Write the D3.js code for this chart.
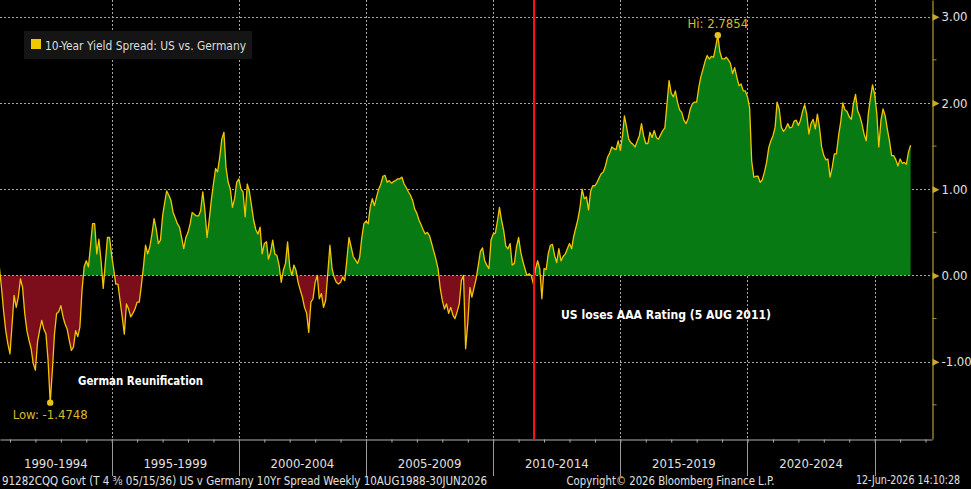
<!DOCTYPE html>
<html><head><meta charset="utf-8">
<script src="https://cdn.jsdelivr.net/npm/d3@7"></script>
<style>html,body{margin:0;padding:0;background:#000;overflow:hidden}svg{display:block}</style>
</head><body><svg id="c" width="971" height="489"></svg>
<script>
// ---------------- data ----------------
const seriesName = "10-Year Yield Spread: US vs. Germany";
const firstMonth = "1990-08-01"; // monthly observations start here
const spread1990s = [
  0.10,-0.14,-0.41,-0.64,-0.79,
  -0.91,-0.56,-0.23,-0.37,-0.25,-0.04,-0.14,-0.44,-0.64,-0.75,-0.85,-1.02,
  -1.10,-0.77,-0.64,-0.52,-0.62,-0.68,-0.98,-1.4748,-1.10,-0.68,-0.44,-0.42,
  -0.35,-0.48,-0.56,-0.62,-0.75,-0.87,-0.83,-0.64,-0.71,-0.60,-0.17,0.10,
  0.17,0.10,0.33,0.60,0.60,0.25,0.42,0.17,-0.15,0.14,0.44,0.44,
  0.23,0.06,-0.10,-0.10,-0.29,-0.48,-0.68,-0.33,-0.39,-0.48,-0.44,-0.39,
  -0.31,-0.31,-0.12,0.10,0.35,0.25,0.33,0.48,0.66,0.54,0.37,0.41,
  0.69,0.85,0.98,0.93,0.87,0.73,0.67,0.60,0.56,0.44,0.31,0.44,
  0.50,0.60,0.73,0.71,0.69,0.69,0.75,0.97,0.75,0.44,0.64,0.87,
  1.06,1.24,1.20,1.37,1.58,1.66,1.25,1.08,1.00,0.79,0.89,1.08
];
const spread2000s = [
  1.12,1.00,0.97,0.68,1.06,0.97,0.81,0.64,0.53,0.48,0.56,0.25,
  0.37,0.39,0.19,0.27,0.41,0.25,0.23,0.12,-0.08,0.06,0.14,0.39,
  0.10,0.00,0.12,0.06,-0.08,-0.17,-0.25,-0.37,-0.44,-0.66,-0.31,-0.27,
  -0.08,0.00,-0.27,-0.21,-0.37,-0.29,0.02,0.35,0.08,-0.02,-0.08,-0.10,
  -0.08,-0.02,-0.06,0.19,0.44,0.33,0.22,0.18,0.14,0.21,0.44,0.60,
  0.63,0.60,0.79,0.89,0.81,0.91,1.00,1.06,1.15,1.16,1.08,1.10,
  1.07,1.09,1.10,1.12,1.12,1.14,1.06,1.02,0.97,0.93,0.87,0.77,
  0.72,0.64,0.59,0.53,0.48,0.50,0.46,0.37,0.28,0.19,0.08,-0.14,
  -0.29,-0.39,-0.33,-0.44,-0.37,-0.46,-0.50,-0.42,-0.33,-0.06,0.00,-0.85,
  -0.55,-0.14,-0.25,-0.14,-0.04,0.12,0.28,0.32,0.17,0.12,0.08,0.41
];
const spread2010s = [
  0.48,0.49,0.62,0.79,0.64,0.52,0.34,0.31,0.37,0.12,0.14,0.33,
  0.44,0.27,0.17,0.08,0.00,0.02,0.00,-0.10,0.08,0.17,0.08,-0.27,
  0.08,0.07,0.25,0.35,0.36,0.23,0.15,0.31,0.17,0.22,0.25,0.31,
  0.37,0.31,0.45,0.55,0.65,0.79,1.00,0.89,0.91,0.76,0.98,1.04,
  1.04,1.08,1.13,1.18,1.20,1.27,1.37,1.42,1.49,1.47,1.46,1.56,
  1.45,1.62,1.85,1.72,1.58,1.54,1.52,1.49,1.56,1.62,1.76,1.62,
  1.53,1.53,1.66,1.60,1.68,1.60,1.58,1.63,1.68,1.71,1.99,2.26,
  2.11,2.07,2.14,2.01,1.92,1.89,1.80,1.76,1.82,1.93,1.99,2.01,
  2.01,2.18,2.30,2.39,2.48,2.55,2.51,2.54,2.53,2.65,2.7854,2.59,
  2.51,2.51,2.53,2.50,2.46,2.34,2.41,2.30,2.20,2.22,2.14,2.14
];
const spread2020s = [
  2.07,1.94,1.33,1.14,1.15,1.15,1.08,1.11,1.20,1.31,1.48,1.56,
  1.62,1.72,2.01,1.93,1.72,1.67,1.70,1.76,1.71,1.72,1.79,1.80,
  1.74,1.80,1.90,1.98,1.87,1.64,1.76,1.81,1.70,1.87,1.71,1.49,
  1.39,1.34,1.35,1.14,1.25,1.41,1.41,1.62,1.78,2.00,1.92,1.90,
  1.84,1.81,1.99,2.10,1.91,1.85,1.76,1.64,1.56,1.87,2.06,2.21,
  2.10,1.87,1.49,1.80,1.93,1.85,1.70,1.56,1.39,1.39,1.34,1.27,
  1.35,1.30,1.31,1.29,1.43,1.51
];
const periodLabels = ["1990-1994","1995-1999","2000-2004","2005-2009","2010-2014","2015-2019","2020-2024"];
const periodBreaks = ["1995-01-01","2000-01-01","2005-01-01","2010-01-01","2015-01-01","2020-01-01","2025-01-01"];
const yTicks = [3, 2, 1, 0, -1];
const yMinorTicks = [2.5, 1.5, 0.5, -0.5, -1.5];
const eventDate = "2011-08-05";
const eventLabel = "US loses AAA Rating (5 AUG 2011)";
const reunificationLabel = "German Reunification";
const hiLabel = "Hi: 2.7854", loLabel = "Low: -1.4748";
const footerLeft = "91282CQQ Govt (T 4 \u215C 05/15/36) US v Germany 10Yr Spread Weekly 10AUG1988-30JUN2026";
const footerMid = "Copyright\u00A9 2026 Bloomberg Finance L.P.";
const footerRight = "12-Jun-2026 14:10:28";

// ---------------- build ----------------
const values = [].concat(spread1990s, spread2000s, spread2010s, spread2020s);
const start = new Date(firstMonth);
const data = values.map((v, i) => ({date: d3.utcMonth.offset(start, i), v}));

const FONT = '"Liberation Sans Narrow","Arial Narrow","DejaVu Sans Condensed",sans-serif';
const plotR = 932, plotB = 439;

const xa = d3.scaleUtc().domain([new Date("1995-01-01"), new Date("2025-01-01")]).range([111.7, 874.7]);
const x = d3.scaleUtc().domain([xa.invert(0), xa.invert(plotR)]).range([0, plotR]);
const y = d3.scaleLinear().domain([-1, 3]).range([361.7, 16.7]);
y.domain([y.invert(plotB), y.invert(0)]).range([plotB, 0]);

const svg = d3.select("#c");
svg.append("rect").attr("width", 971).attr("height", 489).attr("fill", "#000");
const defs = svg.append("defs");
defs.append("clipPath").attr("id", "plot").append("rect").attr("x", 0).attr("y", 0).attr("width", plotR).attr("height", plotB);
defs.append("clipPath").attr("id", "pos").append("rect").attr("x", 0).attr("y", 0).attr("width", plotR).attr("height", y(0));
defs.append("clipPath").attr("id", "neg").append("rect").attr("x", 0).attr("y", y(0)).attr("width", plotR).attr("height", plotB - y(0));

// grid
const grid = svg.append("g").attr("stroke", "#a8a8a8").attr("stroke-width", 1).attr("stroke-dasharray", "2,2");
grid.selectAll("line.h").data(yTicks).join("line")
  .attr("x1", 0).attr("x2", plotR).attr("y1", d => Math.round(y(d)) + 0.5).attr("y2", d => Math.round(y(d)) + 0.5);
grid.selectAll("line.v").data(periodBreaks).join("line")
  .attr("x1", d => Math.round(x(new Date(d))) + 0.5).attr("x2", d => Math.round(x(new Date(d))) + 0.5)
  .attr("y1", 0).attr("y2", plotB);

// area fills
const area = d3.area().x(d => x(d.date)).y0(y(0)).y1(d => y(d.v));
const g = svg.append("g").attr("clip-path", "url(#plot)");
g.append("path").datum(data).attr("d", area).attr("fill", "#087a14").attr("clip-path", "url(#pos)");
g.append("path").datum(data).attr("d", area).attr("fill", "#7c0d1a").attr("clip-path", "url(#neg)");
// redraw zero grid over fill
g.append("line").attr("x1", 0).attr("x2", plotR).attr("y1", Math.round(y(0)) + 0.5).attr("y2", Math.round(y(0)) + 0.5)
  .attr("stroke", "#a8a8a8").attr("stroke-dasharray", "2,2");
// line
g.append("path").datum(data).attr("d", d3.line().x(d => x(d.date)).y(d => y(d.v)))
  .attr("fill", "none").attr("stroke", "#f2c500").attr("stroke-width", 1.3).attr("stroke-linejoin", "round");

// event line
const ex = Math.round(x(new Date(eventDate)));
svg.append("rect").attr("x", ex - 1).attr("y", 0).attr("width", 2).attr("height", plotB).attr("fill", "#ff1010");

// hi / low markers
const hiD = data.reduce((a, b) => b.v > a.v ? b : a);
const loD = data.reduce((a, b) => b.v < a.v ? b : a);
svg.append("circle").attr("cx", x(hiD.date)).attr("cy", y(hiD.v)).attr("r", 3.2).attr("fill", "#e8c21c");
svg.append("circle").attr("cx", x(loD.date)).attr("cy", y(loD.v)).attr("r", 3.2).attr("fill", "#e8c21c");
svg.append("text").attr("x", x(hiD.date)).attr("y", y(hiD.v) - 7).attr("text-anchor", "middle")
  .attr("font-family", FONT).attr("font-size", 13).attr("fill", "#d9b92e").text(hiLabel);
svg.append("text").attr("x", x(loD.date)).attr("y", y(loD.v) + 16).attr("text-anchor", "middle")
  .attr("font-family", FONT).attr("font-size", 13).attr("fill", "#d9b92e").text(loLabel);

// annotations
svg.append("text").attr("x", 78).attr("y", 385).attr("font-family", "DejaVu Sans, sans-serif").attr("font-weight", "bold")
  .attr("font-size", 12).attr("fill", "#fff").attr("textLength", 125).attr("lengthAdjust", "spacingAndGlyphs").text(reunificationLabel);
svg.append("text").attr("x", 561).attr("y", 319).attr("font-family", "DejaVu Sans, sans-serif").attr("font-weight", "bold")
  .attr("font-size", 12).attr("fill", "#fff").attr("textLength", 210).attr("lengthAdjust", "spacingAndGlyphs").text(eventLabel);

// legend
const lg = svg.append("g");
lg.append("rect").attr("x", 24).attr("y", 31).attr("width", 228).attr("height", 28).attr("fill", "#151515");
lg.append("rect").attr("x", 31).attr("y", 39).attr("width", 10).attr("height", 10).attr("fill", "#f0c800");
lg.append("text").attr("x", 45).attr("y", 50).attr("font-family", FONT).attr("font-size", 13).attr("fill", "#dcdcdc")
  .attr("textLength", 201).attr("lengthAdjust", "spacingAndGlyphs").text(seriesName);

// right axis
const ya = svg.append("g").attr("transform", `translate(${plotR + 0.5},0)`)
  .call(d3.axisRight(y).tickValues(yTicks).tickSize(0).tickPadding(9).tickSizeOuter(0).tickFormat(d => d.toFixed(2)));
ya.select(".domain").attr("stroke", "#a68f2e").attr("stroke-width", 1.3);
ya.selectAll(".tick text").attr("font-family", FONT).attr("font-size", 13).attr("fill", "#e0e0e0");
ya.selectAll(".tick").append("path").attr("d", "M0,-3.5L7,0L0,3.5Z").attr("fill", "#c9a92a");
ya.selectAll("line.minor").data(yMinorTicks).join("line").attr("class", "minor")
  .attr("x1", 0).attr("x2", 4).attr("y1", d => y(d)).attr("y2", d => y(d)).attr("stroke", "#a68f2e");

// bottom axis
const xb = svg.append("g").attr("transform", `translate(0,${plotB + 0.5})`)
  .call(d3.axisBottom(x).ticks(d3.utcYear.every(1)).tickSize(3).tickSizeOuter(0).tickFormat(""));
xb.select(".domain").attr("stroke", "#b0b0b0");
xb.selectAll(".tick line").attr("stroke", "#b0b0b0");
svg.append("g").selectAll("line").data(periodBreaks).join("line")
  .attr("x1", d => Math.round(x(new Date(d))) + 0.5).attr("x2", d => Math.round(x(new Date(d))) + 0.5)
  .attr("y1", plotB).attr("y2", 476).attr("stroke", "#9a9a9a");
const edges = [0].concat(periodBreaks.map(d => x(new Date(d))));
svg.append("g").selectAll("text").data(periodLabels).join("text")
  .attr("x", (d, i) => (edges[i] + edges[i + 1]) / 2).attr("y", 468).attr("text-anchor", "middle")
  .attr("font-family", FONT).attr("font-size", 13).attr("fill", "#e0e0e0").text(d => d);

// footer
const ft = svg.append("g").attr("font-family", FONT).attr("font-size", 12).attr("fill", "#e0e0e0");
ft.append("text").attr("x", 2).attr("y", 485).attr("textLength", 485).attr("lengthAdjust", "spacingAndGlyphs").text(footerLeft);
ft.append("text").attr("x", 566.5).attr("y", 485).attr("textLength", 208).attr("lengthAdjust", "spacingAndGlyphs").text(footerMid);
ft.append("text").attr("x", 960).attr("y", 484).attr("font-size", 11.5).attr("text-anchor", "end").attr("textLength", 104).attr("lengthAdjust", "spacingAndGlyphs").text(footerRight);
</script>
</body></html>
